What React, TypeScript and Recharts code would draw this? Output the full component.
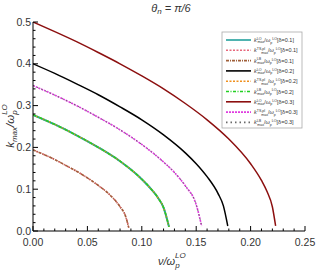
import { Line, LineChart, XAxis, YAxis } from 'recharts'

// curve readings: v / ω_p^LO  against  k_max / ω_p^LO
const vRed = [0, 0.02, 0.04, 0.06, 0.08, 0.1, 0.12, 0.14, 0.16, 0.18, 0.2, 0.21, 0.215, 0.22, 0.223]
const kRed = [0.5, 0.477, 0.453, 0.427, 0.4, 0.371, 0.34, 0.305, 0.266, 0.22, 0.161, 0.121, 0.095, 0.058, 0.012]

const vBlack = [0, 0.02, 0.04, 0.06, 0.08, 0.1, 0.12, 0.14, 0.15, 0.16, 0.17, 0.175, 0.179]
const kBlack = [0.4, 0.377, 0.352, 0.326, 0.297, 0.266, 0.23, 0.187, 0.161, 0.13, 0.09, 0.06, 0.012]

const vMagenta = [0, 0.02, 0.04, 0.06, 0.08, 0.1, 0.12, 0.13, 0.14, 0.15, 0.155]
const kMagenta = [0.348, 0.325, 0.3, 0.272, 0.242, 0.207, 0.165, 0.14, 0.108, 0.063, 0.012]

const vTeal = [0, 0.02, 0.04, 0.06, 0.08, 0.09, 0.1, 0.11, 0.115, 0.12, 0.125]
const kTeal = [0.278, 0.255, 0.229, 0.2, 0.167, 0.147, 0.124, 0.096, 0.079, 0.056, 0.01]

const vBrown = [0, 0.01, 0.02, 0.03, 0.04, 0.05, 0.06, 0.07, 0.08, 0.085, 0.088]
const kBrown = [0.194, 0.183, 0.171, 0.157, 0.143, 0.127, 0.109, 0.088, 0.058, 0.036, 0.008]

const xTicks = [
	0, 0.01, 0.02, 0.03, 0.04, 0.05, 0.06, 0.07, 0.08, 0.09, 0.1, 0.11, 0.12, 0.13, 0.14, 0.15, 0.16,
	0.17, 0.18, 0.19, 0.2, 0.21, 0.22, 0.23, 0.24, 0.25,
]
const yTicks = [
	0, 0.02, 0.04, 0.06, 0.08, 0.1, 0.12, 0.14, 0.16, 0.18, 0.2, 0.22, 0.24, 0.26, 0.28, 0.3, 0.32,
	0.34, 0.36, 0.38, 0.4, 0.42, 0.44, 0.46, 0.48, 0.5,
]

const seriesModels = ['LO', 'TS,pl', 'LB', 'LO', 'TS,pl', 'LB', 'LO', 'TS,pl', 'LB']
const seriesDeltas = ['0.1', '0.1', '0.1', '0.2', '0.2', '0.2', '0.3', '0.3', '0.3']

const zip = (v: number[], k: number[]) => v.map((x, i) => ({ v: x, k: k[i] }))

const curves = [
	zip(vTeal, kTeal),
	zip(vBrown, kBrown),
	zip(vBrown, kBrown),
	zip(vBlack, kBlack),
	zip(vTeal, kTeal),
	zip(vTeal, kTeal),
	zip(vRed, kRed),
	zip(vMagenta, kMagenta),
	zip(vMagenta, kMagenta),
]

const styles = [
	{ color: '#23a09c', dash: undefined, width: 2 },
	{ color: '#e8687c', dash: '2 1.5', width: 1.5 },
	{ color: '#a0603a', dash: '3 1 1 1', width: 1.5 },
	{ color: '#000000', dash: undefined, width: 1.5 },
	{ color: '#f0901e', dash: '2 1.5', width: 1.5 },
	{ color: '#22d022', dash: '3 1.5 1 1.5', width: 1.5 },
	{ color: '#8c0f0f', dash: undefined, width: 1.5 },
	{ color: '#e03ce0', dash: '2 1', width: 1.6 },
	{ color: '#6a6a6a', dash: '1.5 3', width: 1 },
]

const isMajor = (v: number, step: number) => Math.abs(v / step - Math.round(v / step)) < 1e-6

const tickFont = { fontFamily: 'Liberation Sans, Arial, sans-serif', fontSize: 10.5, fill: '#333' }

const BottomTick = (props: any) => {
	const { x, y, payload } = props
	const major = isMajor(payload.value, 0.05)
	return (
		<g>
			<line x1={x} x2={x} y1={y} y2={y - (major ? 5 : 2.5)} stroke='#000' />
			{major && (
				<text x={x} y={y + 15} textAnchor='middle' {...tickFont}>
					{payload.value.toFixed(2)}
				</text>
			)}
		</g>
	)
}

const TopTick = (props: any) => {
	const { x, y, payload } = props
	const major = isMajor(payload.value, 0.05)
	return <line x1={x} x2={x} y1={y} y2={y + (major ? 5 : 2.5)} stroke='#000' />
}

const LeftTick = (props: any) => {
	const { x, y, payload } = props
	const major = isMajor(payload.value, 0.1)
	return (
		<g>
			<line x1={x} x2={x + (major ? 5 : 2.5)} y1={y} y2={y} stroke='#000' />
			{major && (
				<text x={x - 2} y={y + 3.5} textAnchor='end' {...tickFont}>
					{payload.value.toFixed(1)}
				</text>
			)}
		</g>
	)
}

const RightTick = (props: any) => {
	const { x, y, payload } = props
	const major = isMajor(payload.value, 0.1)
	return <line x1={x} x2={x - (major ? 5 : 2.5)} y1={y} y2={y} stroke='#000' />
}

const LegendBox = () => {
	const left = 222
	const top = 32
	return (
		<g>
			<rect x={left} y={top} width={80} height={96} fill='#fff' stroke='#aaa' strokeWidth={0.8} />
			{seriesModels.map((m, i) => {
				const ry = top + 8 + i * 10.3
				return (
					<g key={i}>
						<line
							x1={left + 4}
							x2={left + 29}
							y1={ry}
							y2={ry}
							stroke={styles[i].color}
							strokeWidth={1.6}
							strokeDasharray={styles[i].dash}
						/>
						<text x={left + 32} y={ry + 2} fontSize={5.5} fill='#333' fontFamily='Liberation Sans, Arial, sans-serif'>
							<tspan fontStyle='italic'>k</tspan>
							<tspan fontSize={3.6} dy={-2.2}>{m}</tspan>
							<tspan fontSize={3.6} dy={3.6} dx={-4}>max</tspan>
							<tspan dy={-1.4}>/</tspan>
							<tspan fontStyle='italic'>ω</tspan>
							<tspan fontSize={3.6} dy={1.5}>p</tspan>
							<tspan fontSize={3.6} dy={-3.6}>LO</tspan>
							<tspan dy={2.1}>[δ={seriesDeltas[i]}]</tspan>
						</text>
					</g>
				)
			})}
		</g>
	)
}

export default function App() {
	return (
		<div style={{ position: 'absolute', left: 0, top: 0 }}>
			<LineChart width={316} height={273} margin={{ top: 22, right: 11, bottom: 0, left: 0 }}>
				<XAxis
					xAxisId='b'
					dataKey='v'
					type='number'
					domain={[0, 0.25]}
					ticks={xTicks}
					interval={0}
					height={42}
					tickSize={0}
					tickMargin={0}
					tickLine={false}
					tick={<BottomTick />}
					axisLine={{ stroke: '#000' }}
					allowDataOverflow
				/>
				<XAxis
					xAxisId='t'
					orientation='top'
					type='number'
					domain={[0, 0.25]}
					ticks={xTicks}
					interval={0}
					height={0}
					tickSize={0}
					tickMargin={0}
					tickLine={false}
					tick={<TopTick />}
					axisLine={{ stroke: '#000' }}
					allowDataOverflow
				/>
				<YAxis
					yAxisId='l'
					type='number'
					domain={[0, 0.5]}
					ticks={yTicks}
					interval={0}
					width={33}
					tickSize={0}
					tickMargin={0}
					tickLine={false}
					tick={<LeftTick />}
					axisLine={{ stroke: '#000' }}
					allowDataOverflow
				/>
				<YAxis
					yAxisId='r'
					orientation='right'
					type='number'
					domain={[0, 0.5]}
					ticks={yTicks}
					interval={0}
					width={0}
					tickSize={0}
					tickMargin={0}
					tickLine={false}
					tick={<RightTick />}
					axisLine={{ stroke: '#000' }}
					allowDataOverflow
				/>
				{curves.map((d, i) => (
					<Line
						key={i}
						xAxisId='b'
						yAxisId='l'
						data={d}
						dataKey='k'
						type='monotone'
						stroke={styles[i].color}
						strokeWidth={styles[i].width}
						strokeDasharray={styles[i].dash}
						dot={false}
						activeDot={false}
						isAnimationActive={false}
						name={`${seriesModels[i]} δ=${seriesDeltas[i]}`}
					/>
				))}
				<LegendBox />
				<text x={171} y={12} textAnchor='middle' fontSize={11} fontStyle='italic' fill='#333' fontFamily='Liberation Sans, Arial, sans-serif'>
					θ<tspan fontSize={8} dy={2}>n</tspan>
					<tspan dy={-2}> = π/6</tspan>
				</text>
				<text x={158} y={265} fontSize={11} fontStyle='italic' fill='#333' fontFamily='Liberation Sans, Arial, sans-serif'>
					ν/ω<tspan fontSize={8} dy={3}>p</tspan>
					<tspan fontSize={8} dy={-10} dx={-4.5}>LO</tspan>
				</text>
				<text
					transform='translate(14,126) rotate(-90)'
					textAnchor='middle'
					fontSize={11.5}
					fontStyle='italic'
					fill='#333'
					fontFamily='Liberation Sans, Arial, sans-serif'
				>
					k<tspan fontSize={8} dy={3}>max</tspan>
					<tspan dy={-3}>/ω</tspan>
					<tspan fontSize={8} dy={3}>p</tspan>
					<tspan fontSize={8} dy={-10} dx={-4.5}>LO</tspan>
				</text>
			</LineChart>
		</div>
	)
}
